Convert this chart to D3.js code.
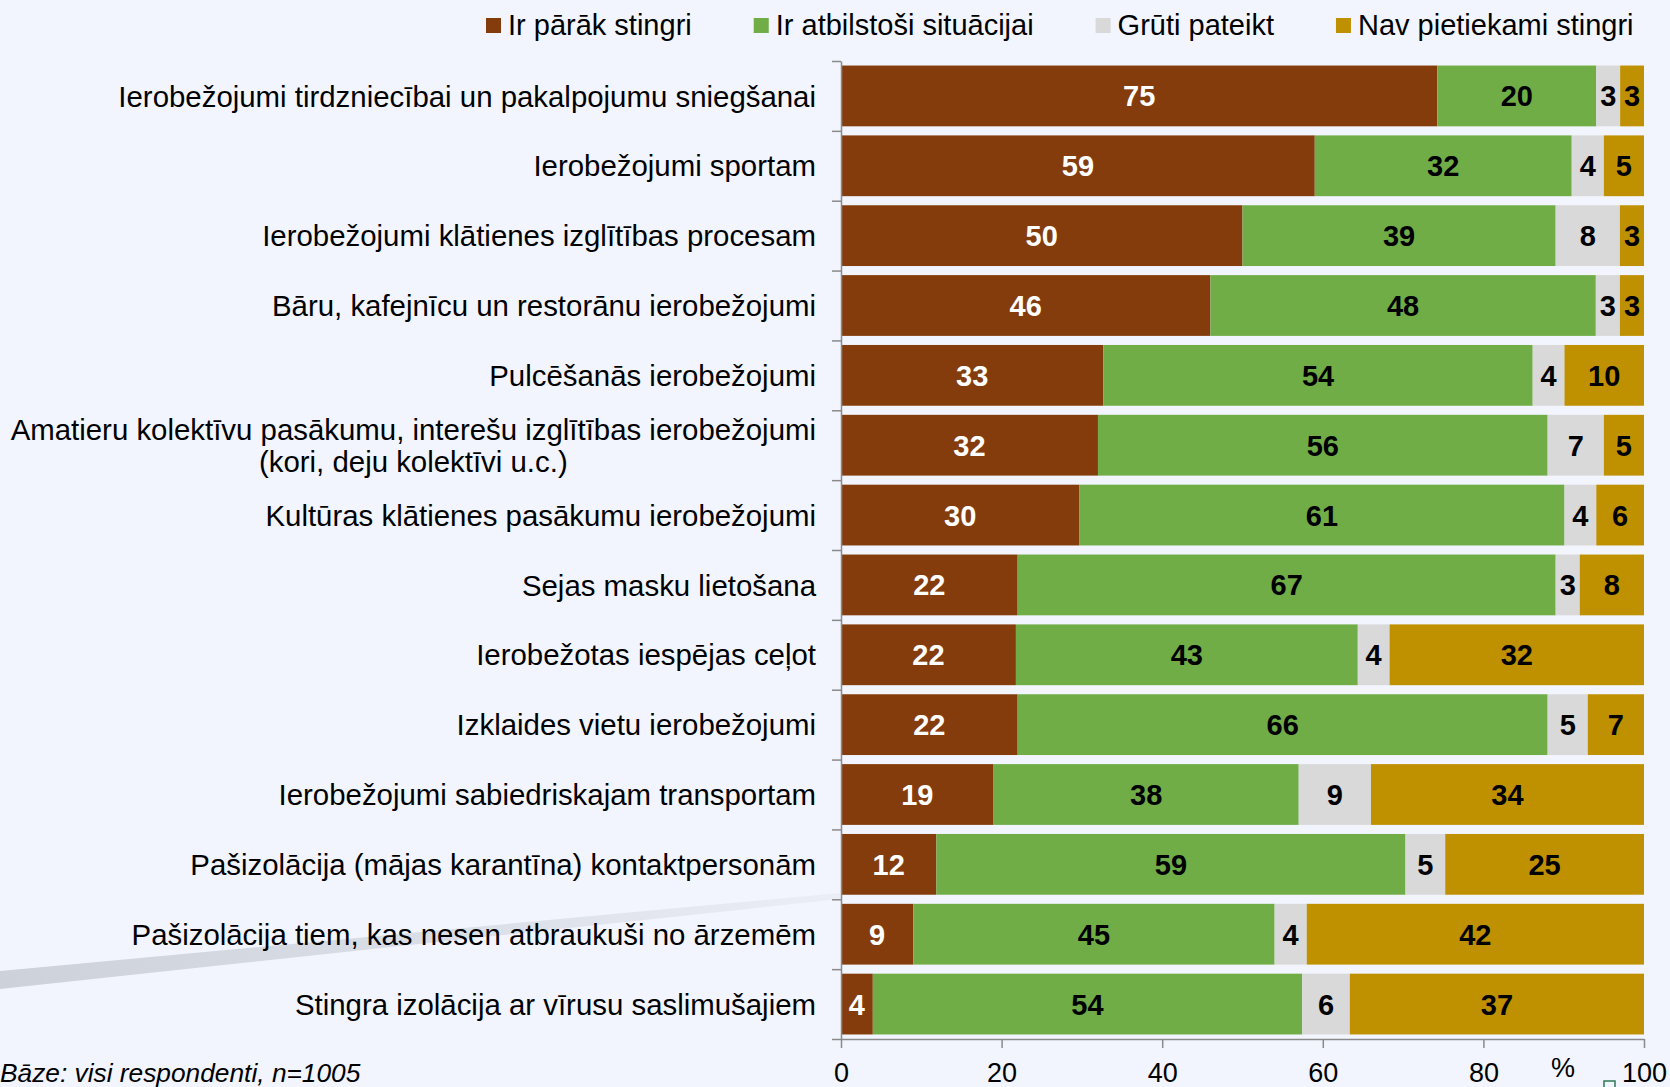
<!DOCTYPE html>
<html>
<head>
<meta charset="utf-8">
<script src="https://cdn.jsdelivr.net/npm/d3@7"></script>
<style>
html,body{margin:0;padding:0;background:#F2F5FE;}
svg{display:block;}
text{font-family:"Liberation Sans",Arial,sans-serif;}
</style>
</head>
<body>
<svg id="chart" width="1670" height="1087"></svg>
<script>
const categories = [
  ["Ierobežojumi tirdzniecībai un pakalpojumu sniegšanai"],
  ["Ierobežojumi sportam"],
  ["Ierobežojumi klātienes izglītības procesam"],
  ["Bāru, kafejnīcu un restorānu ierobežojumi"],
  ["Pulcēšanās ierobežojumi"],
  ["Amatieru kolektīvu pasākumu, interešu izglītības ierobežojumi", "(kori, deju kolektīvi u.c.)"],
  ["Kultūras klātienes pasākumu ierobežojumi"],
  ["Sejas masku lietošana"],
  ["Ierobežotas iespējas ceļot"],
  ["Izklaides vietu ierobežojumi"],
  ["Ierobežojumi sabiedriskajam transportam"],
  ["Pašizolācija (mājas karantīna) kontaktpersonām"],
  ["Pašizolācija tiem, kas nesen atbraukuši no ārzemēm"],
  ["Stingra izolācija ar vīrusu saslimušajiem"]
];
const tooStrict   = [75, 59, 50, 46, 33, 32, 30, 22, 22, 22, 19, 12, 9, 4];
const appropriate = [20, 32, 39, 48, 54, 56, 61, 67, 43, 66, 38, 59, 45, 54];
const hardToSay   = [3, 4, 8, 3, 4, 7, 4, 3, 4, 5, 9, 5, 4, 6];
const notStrict   = [3, 5, 3, 3, 10, 5, 6, 8, 32, 7, 34, 25, 42, 37];
const seriesNames = ["Ir pārāk stingri", "Ir atbilstoši situācijai", "Grūti pateikt", "Nav pietiekami stingri"];
const seriesColors = ["#843C0C", "#70AD47", "#D9D9D9", "#BF9000"];
const labelColors = ["#FFFFFF", "#000000", "#000000", "#000000"];
const xTickValues = [0, 0.2, 0.4, 0.6, 0.8, 1];
const xTickLabels = ["0", "20", "40", "60", "80", "100"];
const axisUnit = "%";
const footnote = "Bāze: visi respondenti, n=1005";

const keys = ["a", "b", "c", "d"];
const rows = categories.map((c, i) => ({
  idx: i, a: tooStrict[i], b: appropriate[i], c: hardToSay[i], d: notStrict[i]
}));

const svg = d3.select("#chart");
const plotLeft = 841, plotRight = 1644, plotTop = 61, plotBottom = 1039;

// decorative diagonal band
const defs = svg.append("defs");
const grad = defs.append("linearGradient").attr("id", "bandGrad")
  .attr("x1", "0").attr("x2", "1").attr("y1", "0").attr("y2", "0");
grad.append("stop").attr("offset", "0").attr("stop-color", "#CDD1DA");
grad.append("stop").attr("offset", "0.6").attr("stop-color", "#DCE0E8");
grad.append("stop").attr("offset", "1").attr("stop-color", "#EBEEF6");
svg.append("path")
  .attr("d", "M0,971 L840,893 L840,899 L0,989 Z")
  .attr("fill", "url(#bandGrad)");

const x = d3.scaleLinear().domain([0, 1]).range([plotLeft, plotRight]);
const y = d3.scaleBand().domain(d3.range(categories.length)).range([plotTop, plotBottom]).paddingInner(0.13).paddingOuter(0.065);
const yIdx = d3.scaleLinear().domain([0, categories.length]).range([plotTop, plotBottom]);

const stack = d3.stack().keys(keys).offset(d3.stackOffsetExpand);
const series = stack(rows);

const g = svg.append("g");
series.forEach((s, si) => {
  const grp = g.append("g");
  grp.selectAll("rect").data(s).join("rect")
    .attr("x", d => x(d[0]))
    .attr("y", d => y(d.data.idx))
    .attr("width", d => x(d[1]) - x(d[0]))
    .attr("height", y.bandwidth())
    .attr("fill", seriesColors[si]);
  grp.selectAll("text").data(s).join("text")
    .attr("x", d => (x(d[0]) + x(d[1])) / 2)
    .attr("y", d => y(d.data.idx) + y.bandwidth() / 2)
    .attr("dy", "0.36em")
    .attr("text-anchor", "middle")
    .attr("font-size", 29)
    .attr("font-weight", "bold")
    .attr("fill", labelColors[si])
    .text(d => d.data[keys[si]]);
});

// left axis (category separators)
const yAxis = d3.axisLeft(yIdx).tickValues(d3.range(categories.length + 1)).tickFormat("").tickSize(9).tickSizeOuter(0);
const ya = svg.append("g").attr("transform", `translate(${plotLeft},0)`).call(yAxis);
ya.selectAll("path,line").attr("stroke", "#8A8A8A").attr("stroke-width", 1.5);

// bottom axis
const xAxis = d3.axisBottom(x).tickValues(xTickValues).tickFormat((d, i) => xTickLabels[i]).tickSize(9).tickSizeOuter(0).tickPadding(15);
const xa = svg.append("g").attr("transform", `translate(0,${plotBottom})`).call(xAxis);
xa.selectAll("path,line").attr("stroke", "#8A8A8A").attr("stroke-width", 1.5);
xa.selectAll("text").attr("font-size", 27).attr("fill", "#000")
  .attr("font-family", "'Liberation Sans',Arial,sans-serif");

svg.append("text").attr("x", 1563).attr("y", 1077).attr("text-anchor", "middle")
  .attr("font-size", 27).text(axisUnit);
svg.append("rect").attr("x", 1604).attr("y", 1081).attr("width", 11).attr("height", 10)
  .attr("fill", "none").attr("stroke", "#2F7A55").attr("stroke-width", 1.5);

// category labels
const labX = 816;
const labSize = 29.4;
categories.forEach((lines, i) => {
  const cy = y(i) + y.bandwidth() / 2;
  if (lines.length === 1) {
    svg.append("text").attr("x", labX).attr("y", cy).attr("dy", "0.36em")
      .attr("text-anchor", "end").attr("font-size", labSize).attr("fill", "#000").text(lines[0]);
  } else {
    const t1 = svg.append("text").attr("x", labX).attr("y", cy - 16).attr("dy", "0.36em")
      .attr("text-anchor", "end").attr("font-size", labSize).attr("fill", "#000").text(lines[0]);
    const w = t1.node().getComputedTextLength();
    svg.append("text").attr("x", labX - w / 2).attr("y", cy + 16).attr("dy", "0.36em")
      .attr("text-anchor", "middle").attr("font-size", labSize).attr("fill", "#000").text(lines[1]);
  }
});

// legend
let lx = 486;
const legend = svg.append("g");
seriesNames.forEach((name, i) => {
  legend.append("rect").attr("x", lx).attr("y", 18).attr("width", 15).attr("height", 15).attr("fill", seriesColors[i]);
  const t = legend.append("text").attr("x", lx + 22).attr("y", 25).attr("dy", "0.36em")
    .attr("font-size", 29).attr("fill", "#000").text(name);
  lx += 22 + t.node().getComputedTextLength() + 62;
});

// footnote
svg.append("text").attr("x", 0).attr("y", 1082).attr("font-size", 26.3)
  .attr("font-style", "italic").attr("fill", "#000").text(footnote);
</script>
</body>
</html>
